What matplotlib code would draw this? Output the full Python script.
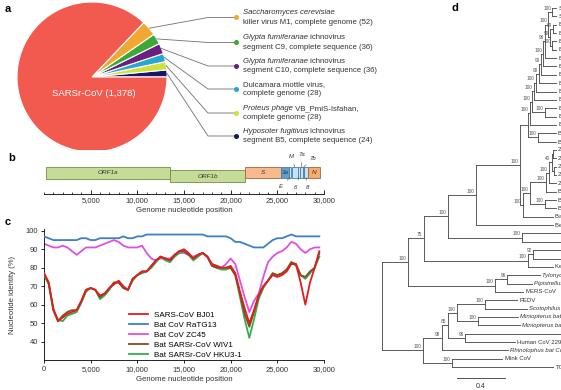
import matplotlib.pyplot as plt
from matplotlib.ticker import FuncFormatter, MultipleLocator
from matplotlib.patches import Rectangle
import numpy as np

plt.rcParams['font.family'] = ['Liberation Sans', 'DejaVu Sans']

W, H = 561, 390

# ---------------- panel a: blast hits
hit_counts = [52, 36, 36, 28, 28, 24]
hit_colors = ['#f2a733', '#3aa935', '#6b1f80', '#28a6d2', '#d0e13c', '#16166e']
hit_italic = ['Saccharomyces cerevisiae', 'Glypta fumiferanae', 'Glypta fumiferanae',
              '', 'Proteus phage', 'Hyposoter fugitivus']
hit_rest = ['', ' ichnovirus', ' ichnovirus', 'Dulcamara mottle virus,',
            ' VB_PmiS-Isfahan,', ' ichnovirus']
hit_line2 = ['killer virus M1, complete genome', 'segment C9, complete sequence',
             'segment C10, complete sequence', 'complete genome',
             'complete genome', 'segment B5, complete sequence']
sars_count = 1378
sars_color = '#f25a4f'

# ---------------- panel b: genome organisation
gene_names = ['ORF1a', 'ORF1b', 'S', '3a', 'E', 'M', '6', '7a', '7b', '8', 'N']
gene_start = [266, 13468, 21563, 25393, 26245, 26523, 27202, 27394, 27756, 27894, 28274]
gene_end = [13483, 21555, 25384, 26220, 26472, 27191, 27387, 27759, 27887, 28259, 29533]
gene_fill = ['#c4dc96', '#c4dc96', '#f8ba8c', '#5aa2d6', '#c6e4f6', '#c6e4f6',
             '#c6e4f6', '#c6e4f6', '#c6e4f6', '#c6e4f6', '#f6ac6c']

# ---------------- panel c: similarity plot
pos = list(range(0, 30000, 500))
bj01 = [77, 72, 58, 51, 53, 55, 56, 57, 62, 68,
        69, 68, 65, 66, 69, 71, 73, 70, 68, 74,
        76, 78, 78, 81, 84, 86, 85, 84, 87, 89,
        90, 88, 85, 87, 88, 86, 82, 81, 80, 80,
        81, 77, 67, 58, 50, 57, 65, 70, 73, 76,
        75, 76, 78, 82, 82, 72, 60, 72, 80, 89]
ratg13 = [97, 96, 95, 95, 95, 95, 95, 95, 96, 96,
          95, 95, 96, 96, 96, 96, 96, 97, 96, 96,
          97, 97, 98, 98, 98, 98, 98, 98, 98, 98,
          98, 98, 98, 98, 98, 97, 97, 97, 97, 97,
          96, 94, 94, 93, 92, 91, 91, 91, 93, 95,
          96, 96, 97, 98, 97, 97, 97, 97, 97, 97]
zc45 = [93, 92, 91, 91, 92, 91, 89, 87, 89, 91,
        91, 91, 92, 93, 94, 95, 94, 92, 91, 91,
        91, 92, 88, 85, 84, 85, 85, 85, 87, 88,
        88, 87, 86, 87, 88, 86, 82, 81, 80, 82,
        85, 82, 73, 64, 56, 62, 66, 75, 83, 86,
        88, 89, 91, 94, 93, 90, 88, 90, 91, 91]
wiv1 = [77, 72, 57, 51, 54, 56, 57, 57, 62, 68,
        69, 68, 64, 66, 69, 72, 72, 69, 68, 74,
        76, 78, 78, 81, 84, 86, 85, 84, 87, 89,
        89, 87, 85, 87, 88, 86, 81, 80, 80, 80,
        80, 76, 66, 55, 48, 56, 65, 70, 73, 77,
        76, 77, 79, 83, 82, 76, 75, 78, 80, 88]
hku3 = [76, 71, 57, 52, 51, 54, 55, 56, 61, 67,
        69, 68, 63, 65, 68, 72, 72, 69, 68, 73,
        76, 77, 78, 80, 83, 86, 84, 83, 86, 88,
        89, 87, 84, 86, 88, 86, 81, 80, 79, 79,
        80, 76, 64, 52, 42, 52, 63, 69, 73, 77,
        76, 77, 79, 83, 81, 76, 74, 77, 80, 86]

# ---------------- panel d: phylogeny (newick, leaves numbered top to bottom)
sarbeco_top = ("(((((((((((0:0.033,1:0.033)100:0.033,((2:0.025,3:0.025)99:0.025,"
               "(4:0.033,5:0.033)100:0.017)90:0.017)100:0.025,6:0.092)96:0.017,"
               "7:0.108)100:0.017,8:0.125)99:0.017,9:0.142)90:0.025,10:0.167)100:0.017,"
               "11:0.183)100:0.017,(12:0.092,13:0.092)100:0.108)100:0.017,14:0.217)100:0.017,"
               "(15:0.15,16:0.15)100:0.083):0.067")
sarbeco_ncov = ("((((((17:0.025,18:0.025):0.008,(19:0.017,20:0.017):0.017)40:0.025,"
                "21:0.058)100:0.025,22:0.083)100:0.133,(23:0.092,24:0.092)100:0.125)100:0.058,"
                "25:0.25)100:0.025")
beta_rest = (")100:0.367,26:0.642)100:0.233,(27:0.65,28:0.65)100:0.617)100:0.2,"
             "((29:0.558,30:0.558)92:0.042,31:0.208)100:0.867)75:0.133,"
             "((32:0.275,33:0.208)96:0.1,34:0.233)100:0.725)100:0.217")
alpha = ("(((((35:0.267,36:0.35)100:0.233,(37:0.333,38:0.35)100:0.175)100:0.075,"
         "(39:1.125,40:0.417)96:0.142)85:0.05,41:0.55)98:0.158,"
         "(42:0.417,43:0.842)100:0.242)100:0.342")
leaf_names = [
    'SARS-CoV BJ01', 'SARS-CoV Tor2', 'Bat SARSr-CoV WIV1', 'Bat SARSr-CoV WIV16',
    'Bat SARSr-CoV Rs4874', 'Bat SARSr-CoV RsSHC014', 'Bat SARSr-CoV Rs4084',
    'Bat SARSr-CoV Rs672', 'Bat SARSr-CoV Rs4231', 'Bat SARSr-CoV Rf1',
    'Bat SARSr-CoV Rp3', 'Bat SARSr-CoV HKU3-1', 'Bat SARSr-CoV HKU3-12',
    'Bat SARSr-CoV HKU3-13', 'Bat SARSr-CoV Longquan-140', 'Bat SARSr-CoV YNLF_31C',
    'Bat SARSr-CoV YNLF_34C', '2019-nCoV WIV04', '2019-nCoV WIV02', '2019-nCoV WIV07',
    '2019-nCoV WIV06', '2019-nCoV WIV05', 'Bat CoV RaTG13', 'Bat SARSr-CoV ZC45',
    'Bat SARSr-CoV ZXC21', 'Bat SARSr-CoV BM48-31', 'BetaCoV HKU24', 'Human CoV OC43',
    'Bovine CoV', 'Bat CoV HKU9-1', 'Bat CoV HKU9-2', 'Kenya bat CoV',
    'Tylonycteris bat CoV HKU4', 'Pipistrellus bat CoV HKU5', 'MERS-CoV', 'PEDV',
    'Scotophilus bat CoV 512', 'Miniopterus bat CoV 1', 'Miniopterus bat CoV HKU8',
    'Human CoV NL63', 'Human CoV 229E', 'Rhinolophus bat CoV HKU2', 'Mink CoV', 'TGEV']
italic_genera = ('Tylonycteris', 'Pipistrellus', 'Scotophilus', 'Miniopterus', 'Rhinolophus')

fig = plt.figure(figsize=(W / 100, H / 100), dpi=100)


def px_axes(l, t, w, h):
    return fig.add_axes([l / W, 1 - (t + h) / H, w / W, h / H])


txt = '#333333'

# ===== a
ax_a = px_axes(0, 0, 380, 152)
vals = [sars_count] + hit_counts
cols = [sars_color] + hit_colors
wedges, _ = ax_a.pie(vals[::-1], colors=cols[::-1], explode=[0.11] * 6 + [0],
                     startangle=0, counterclock=False, center=(92, 77), radius=75,
                     wedgeprops=dict(edgecolor='white', linewidth=0.8))
ax_a.set_xlim(0, 380)
ax_a.set_ylim(152, 0)
ax_a.set_aspect('auto')
ax_a.axis('off')
ax_a.text(94, 94, f'SARSr-CoV ({sars_count:,})', color='white', fontsize=6.8,
          ha='center', va='center')

small = wedges[:6][::-1]
ydots = [17.5, 42.5, 66, 89, 113, 136]
renderer = fig.canvas.get_renderer()
fs_a = 5.6
for w, yd, c, it, rest, l2, n in zip(small, ydots, hit_colors, hit_italic,
                                      hit_rest, hit_line2, hit_counts):
    th = np.deg2rad((w.theta1 + w.theta2) / 2)
    sx = w.center[0] + w.r * np.cos(th)
    sy = w.center[1] + w.r * np.sin(th)
    ax_a.plot([sx, 208, 236], [sy, yd, yd], color='#707070', lw=0.6)
    ax_a.plot(236, yd, 'o', ms=2.6, color=c, mec=c)
    x0 = 243
    if it:
        t = ax_a.text(x0, yd - 4.6, it, fontsize=fs_a, style='italic', color=txt, va='center')
        bb = t.get_window_extent(renderer=renderer)
        x0 = ax_a.transData.inverted().transform((bb.x1, bb.y0))[0]
    if rest:
        ax_a.text(x0, yd - 4.6, rest, fontsize=fs_a, color=txt, va='center')
    ax_a.text(243, yd + 4.6, f'{l2} ({n})', fontsize=fs_a, color=txt, va='center')

# ===== b
ax_b = px_axes(44, 150, 280, 44)
ax_b.set_xlim(0, 30000)
ax_b.set_ylim(44, 0)
for name, s, e, fc in zip(gene_names, gene_start, gene_end, gene_fill):
    top = 20 if name == 'ORF1b' else 17
    hgt = 12 if name.startswith('ORF') else 10.5
    ec = '#6f8f45' if name.startswith('ORF') else ('#a0683c' if fc in ('#f8ba8c', '#f6ac6c') else '#4d7fa0')
    ax_b.add_patch(Rectangle((s, top), e - s, hgt, facecolor=fc, edgecolor=ec, lw=0.6))
    mid = (s + e) / 2
    if name in ('ORF1a', 'ORF1b', 'S', '3a', 'N'):
        ax_b.text(mid, top + hgt / 2, name, fontsize=4.6, style='italic',
                  ha='center', va='center', color='#333')
offs = {'E': (-9, 9), 'M': (-3, -10), '6': (-3, 10), '7a': (0, -12), '7b': (9, -9), '8': (1, 10)}
for name, s, e in zip(gene_names, gene_start, gene_end):
    if name in offs:
        dx, dy = offs[name]
        yy = 27.5 if dy > 0 else 17
        ax_b.annotate(name, xy=((s + e) / 2, yy), xytext=(dx, -dy), textcoords='offset pixels',
                      fontsize=4.3, style='italic', ha='center', va='center', color='#333',
                      arrowprops=dict(arrowstyle='-', lw=0.4, color='#444', shrinkA=1.5, shrinkB=0))
for sp in ('left', 'right', 'top'):
    ax_b.spines[sp].set_visible(False)
ax_b.spines['bottom'].set_linewidth(0.6)
ax_b.set_yticks([])
ax_b.xaxis.set_minor_locator(MultipleLocator(1000))
ax_b.set_xticks([5000, 10000, 15000, 20000, 25000, 30000])
ax_b.xaxis.set_major_formatter(FuncFormatter(lambda v, p: f'{int(v):,}'))
ax_b.tick_params(axis='x', which='major', direction='in', length=3, width=0.6,
                 labelsize=5.5, labelcolor=txt, pad=2.5)
ax_b.tick_params(axis='x', which='minor', direction='in', length=1.5, width=0.5)
ax_b.set_xlabel('Genome nucleotide position', fontsize=5.6, color=txt, labelpad=1.5)

# ===== c
ax_c = px_axes(44, 229, 280, 131)
series = [(bj01, 'SARS-CoV BJ01', '#e41b1f', 5),
          (ratg13, 'Bat CoV RaTG13', '#3c80c4', 3),
          (zc45, 'Bat CoV ZC45', '#e04fe0', 2),
          (wiv1, 'Bat SARSr-CoV WIV1', '#8a4a1c', 4),
          (hku3, 'Bat SARSr-CoV HKU3-1', '#2eb24c', 3.5)]
for ys, lab, c, z in series:
    ax_c.plot(pos, ys, color=c, lw=1.3, label=lab, zorder=z)
ax_c.set_xlim(0, 30000)
ax_c.set_ylim(30, 101)
ax_c.set_yticks(range(40, 101, 10))
ax_c.set_xticks(range(0, 30001, 5000))
ax_c.xaxis.set_major_formatter(FuncFormatter(lambda v, p: f'{int(v):,}'))
for sp in ('right', 'top'):
    ax_c.spines[sp].set_visible(False)
for sp in ('left', 'bottom'):
    ax_c.spines[sp].set_linewidth(0.6)
ax_c.tick_params(direction='out', length=2.5, width=0.6, labelsize=5.5, labelcolor=txt, pad=2)
ax_c.set_xlabel('Genome nucleotide position', fontsize=5.6, color=txt, labelpad=2)
ax_c.set_ylabel('Nucleotide identity (%)', fontsize=5.6, color=txt)
ax_c.yaxis.set_label_coords(-0.1, 0.5)
ax_c.legend(loc='upper left', bbox_to_anchor=(0.29, 0.40), frameon=False, fontsize=5.8,
            handlelength=2.3, labelspacing=0.28, borderpad=0, handletextpad=0.8)


# ===== d
def parse_newick(s):
    pos_ = [0]

    def node():
        n = {'children': [], 'name': '', 'bl': 0.0}
        if s[pos_[0]] == '(':
            pos_[0] += 1
            while True:
                n['children'].append(node())
                ch = s[pos_[0]]
                pos_[0] += 1
                if ch == ')':
                    break
        st = pos_[0]
        while s[pos_[0]] not in ':,);':
            pos_[0] += 1
        n['name'] = s[st:pos_[0]]
        if s[pos_[0]] == ':':
            pos_[0] += 1
            st = pos_[0]
            while s[pos_[0]] not in ',);':
                pos_[0] += 1
            n['bl'] = float(s[st:pos_[0]])
        return n
    return node()


# root + beta + three nested beta nodes + sarbecovirus node
tree = parse_newick("((((((" + sarbeco_top + "," + sarbeco_ncov + beta_rest + "," + alpha + ");")


def layout(n, x0):
    n['x'] = x0 + n['bl']
    if n['children']:
        for ch in n['children']:
            layout(ch, n['x'])
        n['y'] = (n['children'][0]['y'] + n['children'][-1]['y']) / 2
    else:
        n['y'] = int(n['name'])


layout(tree, 0.0)

ax_d = px_axes(380, 0, 181, 390)
ax_d.set_xlim(-2 / 120, 179 / 120)
ax_d.set_ylim((390 - 8) / 8.35, -8 / 8.35)
ax_d.axis('off')
lc = '#505050'


def draw(n):
    if n['children']:
        ys = [ch['y'] for ch in n['children']]
        ax_d.plot([n['x'], n['x']], [min(ys), max(ys)], color=lc, lw=0.65)
        for ch in n['children']:
            ax_d.plot([n['x'], ch['x']], [ch['y'], ch['y']], color=lc, lw=0.65)
            draw(ch)
        if n['name']:
            ax_d.text(n['x'] - 0.012, n['y'] - 0.15, n['name'], fontsize=3.4,
                      color='#555', ha='right', va='bottom')
    else:
        lab = leaf_names[int(n['name'])]
        st = 'italic' if lab.startswith(italic_genera) else 'normal'
        ax_d.text(n['x'] + 0.02, n['y'], lab, fontsize=4.3, style=st, color=txt,
                  va='center', ha='left', clip_on=True)


draw(tree)
ax_d.plot([0.625, 1.025], [44.3, 44.3], color=lc, lw=0.7)
ax_d.text(0.825, 45.3, '0.4', fontsize=5, color=txt, ha='center', va='center')

# panel letters
for lt, x, y in [('a', 5, 9), ('b', 8, 158), ('c', 5, 222), ('d', 452, 8)]:
    fig.text(x / W, 1 - y / H, lt, fontsize=8, fontweight='bold', ha='left', va='center')

fig.savefig('out.png', dpi=100)
